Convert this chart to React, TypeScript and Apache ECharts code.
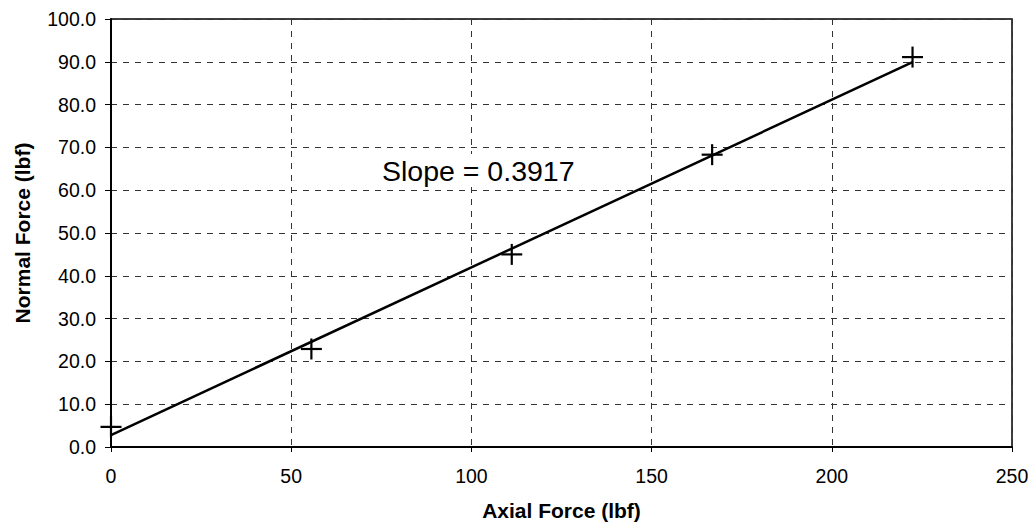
import React, { useEffect, useRef } from "react";
import * as echarts from "echarts";

// Measured axial vs. normal force (lbf)
const axialForce = [0, 55.6, 111.2, 166.8, 222.4];
const normalForce = [4.7, 22.9, 45.0, 68.3, 91.1];

// Linear fit
const fitSlope = 0.3917;
const fitIntercept = 2.8;
const fitRange = [0, 222.4];

const xTicks = [0, 50, 100, 150, 200, 250];
const yTicks = [0, 10, 20, 30, 40, 50, 60, 70, 80, 90, 100];

const FONT = "'Liberation Sans', Arial, sans-serif";

export default function App() {
  const ref = useRef<HTMLDivElement>(null);

  useEffect(() => {
    if (!ref.current) return;
    const chart = echarts.init(ref.current, undefined, { renderer: "svg" });

    const points = axialForce.map((x, i) => [x, normalForce[i]]);
    const fitLine = fitRange.map((x) => [x, fitIntercept + fitSlope * x]);

    chart.setOption({
      animation: false,
      backgroundColor: "#ffffff",
      textStyle: { fontFamily: FONT },
      grid: {
        left: 111,
        right: 22,
        top: 19,
        bottom: 82,
        containLabel: false,
        outerBoundsMode: "none",
        show: true,
        borderColor: "#000",
        borderWidth: 1.5,
        backgroundColor: "transparent",
      },
      xAxis: {
        type: "value",
        min: xTicks[0],
        max: xTicks[xTicks.length - 1],
        interval: 50,
        name: "Axial Force (lbf)",
        nameLocation: "middle",
        nameGap: 53,
        nameTextStyle: { fontFamily: FONT, fontWeight: "bold", fontSize: 21, color: "#000" },
        axisLine: { show: true, lineStyle: { color: "#000", width: 2 } },
        axisTick: { show: true, inside: false, length: 5, lineStyle: { color: "#000", width: 1 } },
        axisLabel: { fontFamily: FONT, fontSize: 19.5, color: "#000", margin: 19 },
        splitLine: { show: true, lineStyle: { color: "#333", width: 1, type: [6, 6] } },
      },
      yAxis: {
        type: "value",
        min: yTicks[0],
        max: yTicks[yTicks.length - 1],
        interval: 10,
        name: "Normal Force (lbf)",
        nameLocation: "middle",
        nameGap: 78,
        nameTextStyle: { fontFamily: FONT, fontWeight: "bold", fontSize: 21, color: "#000" },
        axisLine: { show: true, lineStyle: { color: "#000", width: 2 } },
        axisTick: { show: true, inside: false, length: 6, lineStyle: { color: "#000", width: 1 } },
        axisLabel: {
          fontFamily: FONT,
          fontSize: 19.5,
          color: "#000",
          margin: 15,
          formatter: (v: number) => v.toFixed(1),
        },
        splitLine: { show: true, lineStyle: { color: "#333", width: 1, type: [6, 6] } },
      },
      series: [
        {
          type: "line",
          data: fitLine,
          symbol: "none",
          lineStyle: { color: "#000", width: 2.5 },
          z: 3,
        },
        {
          type: "custom",
          data: points,
          z: 4,
          renderItem: (params: any, api: any) => {
            const [cx, cy] = api.coord([api.value(0), api.value(1)]);
            const h = 10.5;
            const style = { stroke: "#000", lineWidth: 2.2 };
            return {
              type: "group",
              children: [
                { type: "line", shape: { x1: cx - h, y1: cy, x2: cx + h, y2: cy }, style },
                { type: "line", shape: { x1: cx, y1: cy - h, x2: cx, y2: cy + h }, style },
              ],
            };
          },
        },
      ],
      graphic: [
        {
          type: "text",
          left: 378,
          top: 154,
          z: 10,
          style: {
            text: "Slope = 0.3917",
            fontFamily: FONT,
            fontSize: 28.5,
            fill: "#000",
            backgroundColor: "#fff",
            padding: [2, 4, 2, 4],
          },
        },
      ],
    });

    return () => chart.dispose();
  }, []);

  return (
    <div
      ref={ref}
      style={{ position: "fixed", left: 0, top: 0, width: 1034, height: 529 }}
    />
  );
}
